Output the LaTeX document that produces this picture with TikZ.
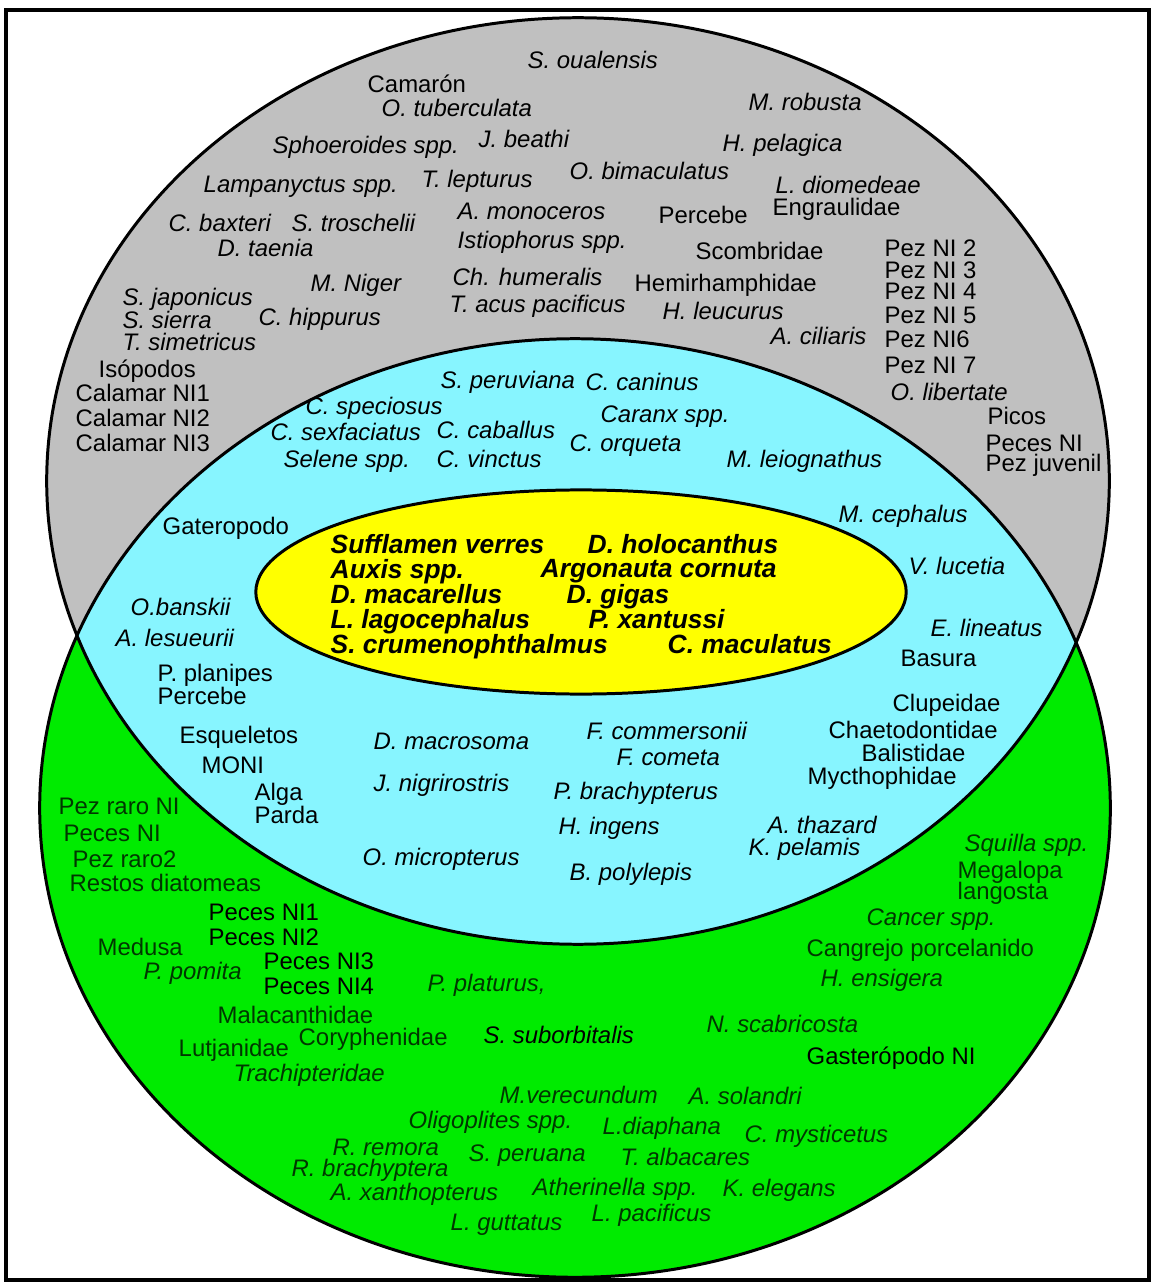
\documentclass[tikz,border=0pt]{standalone}
\usepackage{fontspec}
\setmainfont{Liberation Sans}
\definecolor{setgray}{RGB}{192,192,192}
\definecolor{setblue}{RGB}{135,245,255}
\definecolor{setgreen}{RGB}{0,235,0}
\definecolor{setyellow}{RGB}{255,255,0}
\definecolor{darkleaf}{RGB}{0,55,0}
\begin{document}
\begin{tikzpicture}[x=0.01cm, y=-0.01cm,
    lbl/.style={anchor=west, inner sep=0pt, font=\fontsize{6.8}{8}\selectfont},
    sp/.style={anchor=west, inner sep=0pt, font=\fontsize{6.8}{8}\selectfont\itshape},
    core/.style={anchor=west, inner sep=0pt, text depth=0.15ex, font=\fontsize{7.5}{9}\selectfont\bfseries\itshape},
    rim/.style={line width=0.85pt}]
  \useasboundingbox (0,0) rectangle (1153,1283);
  \draw[line width=1.3pt] (6,10) rectangle (1149,1280);
  % the two sets and their overlap
  \fill[setgray]  (578,481) ellipse [x radius=5.31cm, y radius=4.63cm];
  \fill[setgreen] (575,808) ellipse [x radius=5.35cm, y radius=4.69cm];
  \begin{scope}
    \clip (578,481) ellipse [x radius=5.31cm, y radius=4.63cm];
    \fill[setblue] (575,808) ellipse [x radius=5.35cm, y radius=4.69cm];
  \end{scope}
  \draw[rim] (578,481) ellipse [x radius=5.31cm, y radius=4.63cm];
  \draw[rim] (575,808) ellipse [x radius=5.35cm, y radius=4.69cm];
  \filldraw[rim, fill=setyellow] (581,592) ellipse [x radius=3.25cm, y radius=1.02cm];
  % upper set
  \foreach \px/\py/\txt [count=\i] in {527/60/S. oualensis, 381/108/O. tuberculata,
      748/102/M. robusta, 272/147/Sphoeroides spp., 478/139/J. beathi, 722/145/H. pelagica,
      569/171/O. bimaculatus, 203/187/Lampanyctus spp., 421/181/T. lepturus,
      775/185/L. diomedeae, 457/211/A. monoceros, 168/223/C. baxteri, 291/223/S. troschelii,
      217/248/D. taenia, 457/242/Istiophorus spp., 310/285/M. Niger, 452/277/Ch. humeralis,
      122/299/S. japonicus, 122/320/S. sierra, 122/342/T. simetricus, 258/319/C. hippurus,
      449/306/T. acus pacificus, 662/311/H. leucurus, 770/336/A. ciliaris, 890/392/O. libertate}
    \node[sp] (gi\i) at (\px,\py) {\txt};
  \foreach \px/\py/\txt [count=\i] in {367/84/Camarón, 658/215/Percebe, 772/209/Engraulidae,
      695/251/Scombridae, 884/248/Pez NI 2, 884/270/Pez NI 3, 884/291/Pez NI 4,
      884/315/Pez NI 5, 884/339/Pez NI6, 884/365/Pez NI 7, 634/285/Hemirhamphidae,
      98/371/Isópodos, 75/393/Calamar NI1, 75/418/Calamar NI2, 75/443/Calamar NI3,
      987/416/Picos, 985/443/Peces NI, 985/465/Pez juvenil}
    \node[lbl] (gu\i) at (\px,\py) {\txt};
  % overlap
  \foreach \px/\py/\txt [count=\i] in {440/382/S. peruviana, 585/382/C. caninus,
      305/408/C. speciosus, 600/417/Caranx spp., 270/432/C. sexfaciatus, 436/430/C. caballus,
      569/446/C. orqueta, 283/461/Selene spp., 436/459/C. vinctus, 726/461/M. leiognathus,
      838/516/M. cephalus, 908/566/V. lucetia, 130/607/O.banskii, 115/638/A. lesueurii,
      930/628/E. lineatus, 373/741/D. macrosoma, 586/731/F. commersonii, 616/757/F. cometa,
      373/785/J. nigrirostris, 553/793/P. brachypterus, 558/828/H. ingens, 767/825/A. thazard,
      748/849/K. pelamis, 362/859/O. micropterus, 569/874/B. polylepis}
    \node[sp] (bi\i) at (\px,\py) {\txt};
  \foreach \px/\py/\txt [count=\i] in {162/528/Gateropodo, 900/658/Basura, 157/675/P. planipes,
      157/696/Percebe, 892/705/Clupeidae, 179/737/Esqueletos, 828/730/Chaetodontidae,
      861/753/Balistidae, 201/765/MONI, 807/778/Mycthophidae, 254/794/Alga, 254/815/Parda}
    \node[lbl] (bu\i) at (\px,\py) {\txt};
  % core
  \foreach \px/\py/\txt [count=\i] in {330/545/Sufflamen verres, 587/545/D. holocanthus,
      330/570/Auxis spp., 540/570/Argonauta cornuta, 330/595/D. macarellus, 566/595/D. gigas,
      330/620/L. lagocephalus, 588/620/P. xantussi, 330/645/S. crumenophthalmus,
      667/645/C. maculatus}
    \node[core] (yc\i) at (\px,\py) {\txt};
  % lower set
  \foreach \px/\py/\txt [count=\i] in {964/845/Squilla spp., 866/920/Cancer spp.,
      143/973/P. pomita, 427/985/{P. platurus,}, 820/980/H. ensigera, 706/1024/N. scabricosta,
      233/1075/Trachipteridae, 499/1095/M.verecundum, 688/1096/A. solandri,
      408/1122/Oligoplites spp., 602/1128/L.diaphana, 744/1136/C. mysticetus,
      332/1147/R. remora, 468/1156/S. peruana, 620/1157/T. albacares, 291/1170/R. brachyptera,
      330/1194/A. xanthopterus, 532/1189/Atherinella spp., 722/1190/K. elegans,
      450/1225/L. guttatus, 591/1215/L. pacificus}
    \node[sp, text=darkleaf] (ni\i) at (\px,\py) {\txt};
  \foreach \px/\py/\txt [count=\i] in {58/806/Pez raro NI, 63/833/Peces NI, 72/859/Pez raro2,
      69/883/Restos diatomeas, 957/872/Megalopa, 957/893/langosta,
      806/950/Cangrejo porcelanido, 97/947/Medusa, 217/1015/Malacanthidae,
      298/1039/Coryphenidae, 178/1050/Lutjanidae}
    \node[lbl, text=darkleaf] (nu\i) at (\px,\py) {\txt};
  \foreach \px/\py/\txt [count=\i] in {208/912/Peces NI1, 208/937/Peces NI2,
      263/961/Peces NI3, 263/986/Peces NI4, 806/1058/Gasterópodo NI}
    \node[lbl] (nb\i) at (\px,\py) {\txt};
  \node[sp] (subor) at (483,1035) {S. suborbitalis};
\end{tikzpicture}
\end{document}
